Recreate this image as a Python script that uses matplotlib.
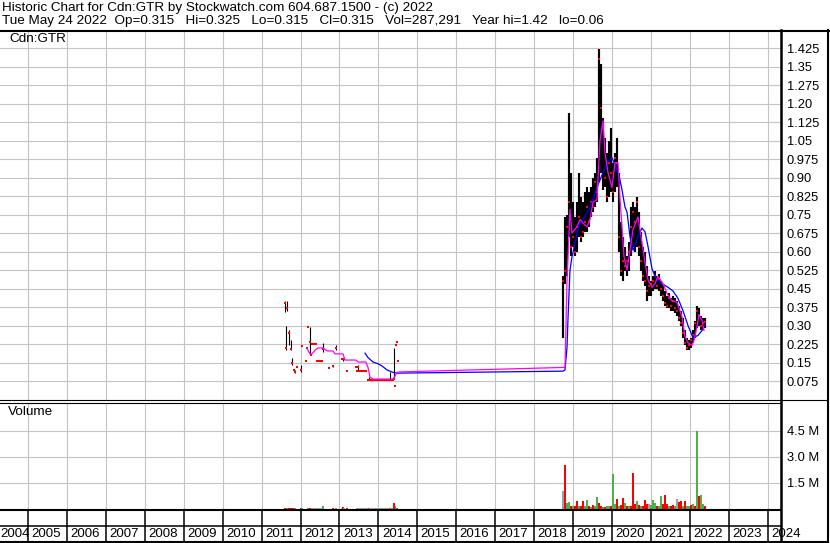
import matplotlib
matplotlib.use("Agg")
import matplotlib.pyplot as plt
from matplotlib.lines import Line2D

plt.rcParams["font.family"] = ["Liberation Sans", "DejaVu Sans"]

# ---- data ----
# 2011-2014: thin trading (year, high, low, close, volume in M, volume colour)
early_year = [2011.602, 2011.615, 2011.653, 2011.704, 2011.756, 2011.794, 2011.820, 2011.858,
              2011.910, 2012.013, 2012.038, 2012.141, 2012.167, 2012.192, 2012.244, 2012.270,
              2012.295, 2012.321, 2012.347, 2012.372, 2012.398, 2012.424, 2012.449, 2012.475,
              2012.501, 2012.526, 2012.552, 2012.578, 2012.732, 2012.835, 2012.912, 2013.066,
              2013.092, 2013.117, 2013.194, 2013.425, 2013.451, 2013.477, 2013.502, 2013.528,
              2013.554, 2013.579, 2013.605, 2013.631, 2013.657, 2013.682, 2013.734, 2013.759,
              2013.785, 2013.811, 2013.836, 2013.862, 2013.887, 2013.913, 2013.939, 2013.965,
              2013.990, 2014.016, 2014.042, 2014.067, 2014.093, 2014.119, 2014.145, 2014.170,
              2014.196, 2014.222, 2014.247, 2014.273, 2014.299, 2014.324, 2014.350, 2014.376,
              2014.402, 2014.415, 2014.440, 2014.466, 2014.492]
early_hi = [0.400, 0.300, 0.400, 0.280, 0.240, 0.170, 0.120, 0.120,
            0.130, 0.140, 0.216, 0.156, 0.207, 0.294, 0.294, 0.180,
            0.225, 0.225, 0.225, 0.225, 0.225, 0.156, 0.156, 0.156,
            0.156, 0.156, 0.156, 0.229, 0.128, 0.140, 0.220, 0.164,
            0.170, 0.164, 0.116, 0.130, 0.116, 0.140, 0.116, 0.116,
            0.116, 0.116, 0.116, 0.116, 0.116, 0.116, 0.079, 0.090,
            0.079, 0.079, 0.079, 0.079, 0.079, 0.079, 0.079, 0.079,
            0.079, 0.079, 0.079, 0.079, 0.079, 0.079, 0.079, 0.079,
            0.079, 0.079, 0.079, 0.079, 0.110, 0.079, 0.079, 0.079,
            0.210, 0.055, 0.220, 0.235, 0.156]
early_lo = [0.355, 0.200, 0.360, 0.220, 0.200, 0.140, 0.120, 0.108,
            0.130, 0.110, 0.216, 0.156, 0.207, 0.294, 0.180, 0.180,
            0.225, 0.225, 0.225, 0.225, 0.225, 0.156, 0.156, 0.156,
            0.156, 0.156, 0.156, 0.193, 0.128, 0.130, 0.200, 0.164,
            0.155, 0.164, 0.116, 0.130, 0.116, 0.120, 0.116, 0.116,
            0.116, 0.116, 0.116, 0.116, 0.116, 0.116, 0.079, 0.078,
            0.079, 0.079, 0.079, 0.079, 0.079, 0.079, 0.079, 0.079,
            0.079, 0.079, 0.079, 0.079, 0.079, 0.079, 0.079, 0.079,
            0.079, 0.079, 0.079, 0.079, 0.079, 0.079, 0.079, 0.079,
            0.083, 0.055, 0.220, 0.235, 0.156]
early_cl = [0.390, 0.210, 0.370, 0.270, 0.205, 0.148, 0.120, 0.110,
            0.130, 0.120, 0.216, 0.156, 0.207, 0.294, 0.235, 0.180,
            0.225, 0.225, 0.225, 0.225, 0.225, 0.156, 0.156, 0.156,
            0.156, 0.156, 0.156, 0.205, 0.128, 0.136, 0.210, 0.164,
            0.164, 0.164, 0.116, 0.130, 0.116, 0.130, 0.116, 0.116,
            0.116, 0.116, 0.116, 0.116, 0.116, 0.116, 0.079, 0.080,
            0.079, 0.079, 0.079, 0.079, 0.079, 0.079, 0.079, 0.079,
            0.079, 0.079, 0.079, 0.079, 0.079, 0.079, 0.079, 0.079,
            0.079, 0.079, 0.079, 0.079, 0.080, 0.079, 0.079, 0.079,
            0.083, 0.055, 0.220, 0.235, 0.156]
early_vol = [0.06, 0.08, 0.05, 0.05, 0.04, 0.06, 0.03, 0.03,
             0.02, 0.04, 0.03, 0.02, 0.02, 0.03, 0.05, 0.02,
             0.03, 0.03, 0.03, 0.03, 0.03, 0.03, 0.03, 0.03,
             0.03, 0.03, 0.03, 0.19, 0.02, 0.03, 0.04, 0.03,
             0.12, 0.03, 0.03, 0.02, 0.03, 0.03, 0.03, 0.03,
             0.03, 0.03, 0.03, 0.03, 0.03, 0.03, 0.03, 0.04,
             0.03, 0.03, 0.03, 0.03, 0.03, 0.03, 0.03, 0.03,
             0.03, 0.03, 0.03, 0.03, 0.03, 0.03, 0.03, 0.03,
             0.03, 0.03, 0.03, 0.03, 0.05, 0.03, 0.03, 0.03,
             0.32, 0.10, 0.15, 0.08, 0.05]
early_vcol = ["r", "r", "g", "r", "r", "r", "r", "g",
              "g", "r", "g", "r", "g", "g", "r", "r",
              "n", "n", "n", "n", "n", "n", "n", "n",
              "n", "n", "n", "g", "r", "r", "g", "n",
              "r", "n", "r", "r", "n", "g", "n", "n",
              "n", "n", "n", "n", "n", "n", "n", "r",
              "n", "n", "n", "n", "n", "n", "n", "n",
              "n", "n", "n", "n", "n", "n", "n", "n",
              "n", "n", "n", "n", "r", "n", "n", "n",
              "r", "r", "g", "g", "r"]

# 2018-2022: active trading
dense_year = [2018.743, 2018.794, 2018.845, 2018.897, 2018.948, 2018.999, 2019.051, 2019.102,
              2019.154, 2019.205, 2019.256, 2019.308, 2019.359, 2019.410, 2019.462, 2019.513,
              2019.565, 2019.616, 2019.667, 2019.719, 2019.770, 2019.821, 2019.873, 2019.924,
              2019.976, 2020.027, 2020.078, 2020.130, 2020.181, 2020.232, 2020.284, 2020.335,
              2020.387, 2020.438, 2020.489, 2020.541, 2020.592, 2020.643, 2020.695, 2020.746,
              2020.798, 2020.849, 2020.900, 2020.952, 2021.003, 2021.054, 2021.106, 2021.157,
              2021.209, 2021.260, 2021.311, 2021.363, 2021.414, 2021.465, 2021.517, 2021.568,
              2021.620, 2021.671, 2021.722, 2021.774, 2021.825, 2021.876, 2021.928, 2021.979,
              2022.031, 2022.082, 2022.133, 2022.185, 2022.236, 2022.287, 2022.338, 2022.389]
dense_hi = [0.50, 0.74, 0.75, 1.16, 0.92, 0.80, 0.74, 0.80,
            0.92, 0.82, 0.80, 0.84, 0.86, 0.84, 0.86, 0.90,
            0.92, 0.98, 1.42, 1.36, 1.14, 1.06, 1.00, 1.05,
            1.10, 0.96, 1.00, 1.06, 0.92, 0.72, 0.66, 0.62,
            0.58, 0.64, 0.78, 0.80, 0.78, 0.82, 0.76, 0.68,
            0.62, 0.60, 0.54, 0.50, 0.48, 0.50, 0.52, 0.50,
            0.51, 0.48, 0.47, 0.44, 0.42, 0.43, 0.41, 0.42,
            0.41, 0.40, 0.38, 0.36, 0.33, 0.28, 0.25, 0.24,
            0.25, 0.28, 0.32, 0.38, 0.37, 0.34, 0.33, 0.33]
dense_lo = [0.25, 0.47, 0.50, 0.66, 0.58, 0.62, 0.58, 0.60,
            0.66, 0.64, 0.66, 0.68, 0.68, 0.70, 0.74, 0.76,
            0.78, 0.80, 0.88, 0.92, 0.85, 0.86, 0.80, 0.82,
            0.84, 0.80, 0.84, 0.86, 0.60, 0.50, 0.48, 0.52,
            0.50, 0.52, 0.58, 0.62, 0.60, 0.62, 0.58, 0.52,
            0.48, 0.46, 0.40, 0.42, 0.42, 0.44, 0.45, 0.45,
            0.44, 0.42, 0.40, 0.38, 0.37, 0.37, 0.36, 0.36,
            0.35, 0.34, 0.32, 0.30, 0.25, 0.22, 0.20, 0.20,
            0.21, 0.23, 0.25, 0.29, 0.30, 0.28, 0.28, 0.29]
dense_cl = [0.48, 0.52, 0.70, 0.80, 0.62, 0.66, 0.60, 0.70,
            0.74, 0.66, 0.68, 0.72, 0.78, 0.72, 0.80, 0.78,
            0.88, 0.84, 1.38, 1.18, 1.10, 0.90, 0.82, 0.96,
            0.92, 0.84, 0.98, 0.96, 0.66, 0.52, 0.56, 0.54,
            0.56, 0.60, 0.70, 0.76, 0.72, 0.80, 0.62, 0.56,
            0.50, 0.48, 0.44, 0.46, 0.47, 0.48, 0.50, 0.46,
            0.49, 0.45, 0.42, 0.39, 0.38, 0.41, 0.38, 0.40,
            0.37, 0.36, 0.33, 0.31, 0.27, 0.23, 0.21, 0.22,
            0.24, 0.26, 0.31, 0.36, 0.34, 0.30, 0.31, 0.315]
dense_vol = [1.02, 2.56, 0.35, 0.40, 0.15, 0.15, 0.20, 0.45,
             0.20, 0.15, 0.45, 0.20, 0.50, 0.15, 0.10, 0.25,
             0.15, 0.70, 0.35, 0.15, 0.10, 0.10, 0.15, 0.20,
             0.20, 2.04, 0.30, 0.60, 0.20, 0.25, 0.65, 0.35,
             0.15, 0.20, 0.15, 2.08, 0.30, 0.45, 0.25, 0.15,
             0.20, 0.50, 0.30, 0.30, 0.25, 0.50, 0.35, 0.15,
             0.20, 0.75, 0.30, 0.83, 0.30, 0.20, 0.15, 0.25,
             0.20, 0.55, 0.40, 0.45, 0.20, 0.45, 0.15, 0.20,
             0.25, 0.30, 0.20, 4.48, 0.72, 0.80, 0.30, 0.15]
dense_vcol = ["n", "r", "g", "g", "r", "g", "r", "r",
              "g", "r", "r", "g", "g", "r", "g", "r",
              "g", "g", "r", "r", "g", "r", "g", "g",
              "r", "g", "g", "r", "g", "r", "r", "g",
              "r", "g", "r", "r", "r", "g", "r", "g",
              "r", "r", "r", "n", "g", "g", "g", "r",
              "g", "g", "r", "r", "r", "g", "r", "r",
              "g", "n", "r", "r", "g", "r", "g", "g",
              "r", "g", "r", "g", "r", "g", "g", "r"]

# moving averages
ma_short_year = [2012.167, 2012.244, 2012.295, 2012.372, 2012.449, 2012.578, 2012.680, 2012.835,
                 2012.886, 2013.091, 2013.143, 2013.425, 2013.477, 2013.682, 2013.734, 2013.785,
                 2013.862, 2014.376, 2014.427, 2014.479, 2014.556, 2018.743, 2018.794, 2018.845,
                 2018.897, 2018.922, 2018.974, 2019.102, 2019.179, 2019.256, 2019.359, 2019.436,
                 2019.513, 2019.616, 2019.642, 2019.693, 2019.770, 2019.821, 2019.899, 2020.001,
                 2020.078, 2020.155, 2020.207, 2020.258, 2020.309, 2020.387, 2020.464, 2020.541,
                 2020.669, 2020.772, 2020.849, 2020.926, 2021.029, 2021.106, 2021.183, 2021.311,
                 2021.414, 2021.542, 2021.671, 2021.799, 2021.876, 2021.953, 2022.056, 2022.108,
                 2022.185, 2022.236, 2022.313, 2022.364]
ma_short_val = [0.207, 0.185, 0.185, 0.200, 0.209, 0.209, 0.197, 0.197,
                0.185, 0.185, 0.160, 0.160, 0.152, 0.152, 0.130, 0.090,
                0.083, 0.083, 0.095, 0.110, 0.112, 0.130, 0.130, 0.485,
                0.675, 0.770, 0.675, 0.700, 0.730, 0.715, 0.700, 0.730,
                0.800, 0.810, 0.900, 1.050, 1.130, 1.000, 0.920, 0.860,
                0.960, 0.960, 0.810, 0.700, 0.580, 0.525, 0.605, 0.690,
                0.740, 0.635, 0.555, 0.485, 0.455, 0.470, 0.500, 0.470,
                0.430, 0.400, 0.395, 0.335, 0.255, 0.230, 0.220, 0.240,
                0.295, 0.345, 0.320, 0.280]
ma_long_year = [2013.657, 2013.734, 2013.862, 2013.990, 2014.093, 2014.222, 2014.376, 2014.504,
                2018.743, 2018.794, 2018.845, 2018.871, 2018.922, 2018.974, 2019.051, 2019.102,
                2019.179, 2019.256, 2019.333, 2019.436, 2019.513, 2019.616, 2019.693, 2019.796,
                2019.873, 2020.001, 2020.130, 2020.207, 2020.258, 2020.335, 2020.387, 2020.464,
                2020.541, 2020.669, 2020.772, 2020.849, 2020.926, 2021.029, 2021.106, 2021.183,
                2021.311, 2021.440, 2021.568, 2021.697, 2021.825, 2021.953, 2022.082, 2022.210,
                2022.313, 2022.389]
ma_long_val = [0.188, 0.170, 0.152, 0.145, 0.136, 0.120, 0.110, 0.107,
               0.115, 0.120, 0.210, 0.330, 0.525, 0.580, 0.630, 0.675,
               0.715, 0.730, 0.750, 0.780, 0.810, 0.860, 0.890, 0.930,
               0.960, 0.980, 0.930, 0.890, 0.850, 0.780, 0.760, 0.660,
               0.605, 0.660, 0.695, 0.680, 0.620, 0.530, 0.500, 0.480,
               0.467, 0.455, 0.440, 0.410, 0.360, 0.300, 0.250, 0.260,
               0.280, 0.300]

price_ticks = [0.075, 0.15, 0.225, 0.30, 0.375, 0.45, 0.525, 0.60, 0.675, 0.75,
               0.825, 0.90, 0.975, 1.05, 1.125, 1.20, 1.275, 1.35, 1.425]
price_labels = ["0.075", "0.15", "0.225", "0.30", "0.375", "0.45", "0.525", "0.60", "0.675", "0.75",
                "0.825", "0.90", "0.975", "1.05", "1.125", "1.20", "1.275", "1.35", "1.425"]
vol_ticks = [1.5, 3.0, 4.5]
vol_labels = ["1.5 M", "3.0 M", "4.5 M"]
years = list(range(2004, 2025))

colors = {"g": "#4cb04c", "r": "#ff0000", "n": "#a0a0a0"}
grid_c = "#c4c4c4"
fs = 9.3
title_fs = 9.7

# ---- figure ----
W, H = 830, 543
fig = plt.figure(figsize=(W / 100, H / 100), dpi=100)
fig.patch.set_facecolor("white")
xlim = (2004.281, 2024.342)


def axes_px(top, bottom):
    return fig.add_axes([0, 1 - bottom / H, 781 / W, (bottom - top) / H])


ax_p = axes_px(31, 401)
ax_v = axes_px(403, 509)
ax_y = axes_px(509, 541)

for ax in (ax_p, ax_v, ax_y):
    ax.set_xlim(*xlim)
    for s in ax.spines.values():
        s.set_visible(False)
    ax.set_facecolor("white")

# price panel
ax_p.set_ylim(-0.006, 1.494)
ax_p.set_xticks(years[1:])
ax_p.set_xticklabels([])
ax_p.set_yticks(price_ticks)
ax_p.set_yticklabels(price_labels)
ax_p.yaxis.tick_right()
ax_p.tick_params(length=0, pad=4.2, labelsize=fs, colors="black")
ax_p.grid(True, color=grid_c, lw=0.8)
ax_p.set_axisbelow(True)

ax_p.vlines(early_year, early_lo, early_hi, color="black", lw=0.8)
ax_p.vlines(dense_year, dense_lo, dense_hi, color="black", lw=1.55)
ax_p.plot(early_year, early_cl, "s", color="red", ms=1.6, mew=0)
ax_p.plot(dense_year, dense_cl, "s", color="red", ms=1.6, mew=0)
ax_p.plot(ma_long_year, ma_long_val, color="#0000ff", lw=0.9)
ax_p.plot(ma_short_year, ma_short_val, color="#ff00ff", lw=0.9)
ax_p.text(9 / 781, 1 - 2 / 370, "Cdn:GTR", transform=ax_p.transAxes,
          ha="left", va="top", fontsize=title_fs)

# volume panel
ax_v.set_ylim(0, 6.1)
ax_v.set_xticks(years[1:])
ax_v.set_xticklabels([])
ax_v.set_yticks(vol_ticks)
ax_v.set_yticklabels(vol_labels)
ax_v.yaxis.tick_right()
ax_v.tick_params(length=0, pad=4.2, labelsize=fs, colors="black")
ax_v.grid(True, color=grid_c, lw=0.8)
ax_v.set_axisbelow(True)
ax_v.bar(early_year, early_vol, width=0.03, color=[colors[c] for c in early_vcol], lw=0)
ax_v.bar(dense_year, dense_vol, width=0.05, color=[colors[c] for c in dense_vcol], lw=0)
ax_v.text(8 / 781, 1 - 3 / 106, "Volume", transform=ax_v.transAxes,
          ha="left", va="top", fontsize=title_fs)

# year band
ax_y.set_ylim(32, 0)
ax_y.set_xticks([])
ax_y.set_yticks([])
ax_y.vlines(years[1:], 0, 32, color="black", lw=1.1)
for yr in years:
    ax_y.text(max(yr + 0.09, xlim[0]), 25, str(yr), ha="left", va="center",
              fontsize=9.5, clip_on=False)


# frame lines in pixel coordinates
def hline(py, x0, x1, lw):
    fig.add_artist(Line2D([x0 / W, x1 / W], [1 - py / H, 1 - py / H], color="black", lw=lw))


def vline(px, y0, y1, lw):
    fig.add_artist(Line2D([px / W, px / W], [1 - y0 / H, 1 - y1 / H], color="black", lw=lw))


hline(30.5, 0, 830, 1.5)
hline(400.2, 0, 828, 0.8)
hline(403.2, 0, 781, 0.8)
hline(509.5, 0, 781, 1.5)
hline(526, 0, 781, 1.1)
hline(541.5, 0, 828, 1.5)
vline(781, 30, 543, 1.8)
vline(827.5, 30, 543, 1.5)

fig.text(2 / W, 1 - 2 / H, "Historic Chart for Cdn:GTR by Stockwatch.com 604.687.1500 - (c) 2022",
         ha="left", va="top", fontsize=title_fs)
fig.text(2 / W, 1 - 15 / H,
         "Tue May 24 2022  Op=0.315   Hi=0.325   Lo=0.315   Cl=0.315   Vol=287,291   Year hi=1.42   lo=0.06",
         ha="left", va="top", fontsize=title_fs)

fig.savefig("out.png", dpi=100)
